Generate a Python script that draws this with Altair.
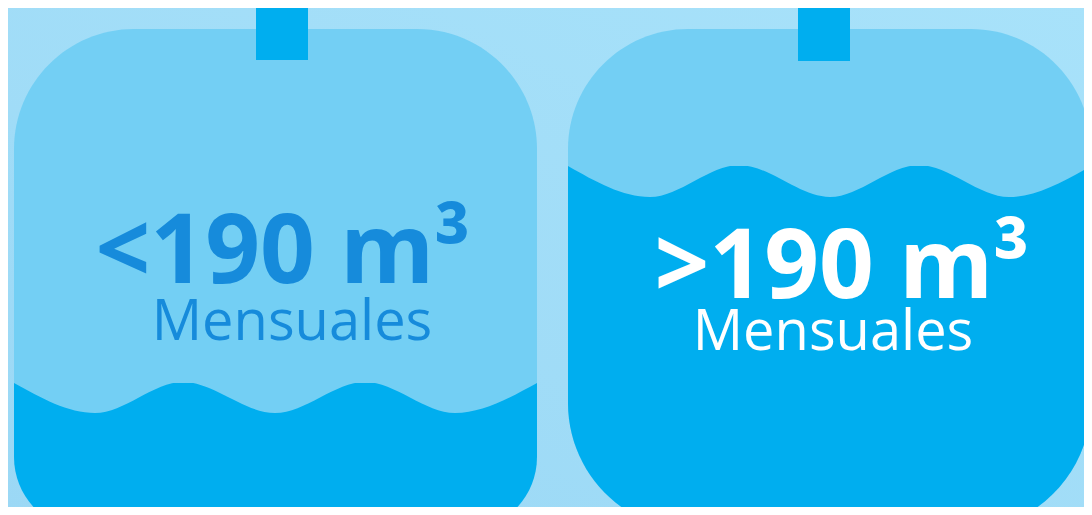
import altair as alt
import pandas as pd

# ---- data (pixel space of the 1092x515 reference) ----
labels_big = ["<190 m³", ">190 m³"]
labels_small = ["Mensuales", "Mensuales"]
text_colors = ["#168bdb", "#ffffff"]

tank_left = [14, 568]
tank_right = [537, 1091]
tank_top = [29, 29]
tank_bottom = [531, 531]
water_level = [383, 166]          # crest line of the water
tab_left = [256, 798]
tab_right = [308, 850]
tab_top = [0, 0]
tab_bottom = [60, 61]

wave_left_x = [14, 95, 183, 275, 365, 455, 537]
wave_left_y = [383, 413, 382, 413, 382, 413, 383]
wave_right_x = [568, 650, 739, 830, 919, 1009, 1091]
wave_right_y = [166, 197, 165, 197, 165, 197, 166]

big_x = [283, 842]
big_y = [283, 298]
small_x = [292, 833]
small_y = [340, 350]

BG_TOP = "#a8e2fa"
BG_BOTTOM = "#9bd8f5"
TANK = "#73cff4"
WATER = "#00aeef"

# ---- tables ----
tanks = pd.DataFrame({
    "left": tank_left, "right": tank_right, "top": tank_top,
    "bottom": tank_bottom, "level": water_level,
})
tabs = pd.DataFrame({"left": tab_left, "right": tab_right,
                     "top": tab_top, "bottom": tab_bottom})
waves = pd.concat([
    pd.DataFrame({"tank": "a", "x": wave_left_x, "y": wave_left_y,
                  "cap": [water_level[0] - 3] * len(wave_left_x)}),
    pd.DataFrame({"tank": "b", "x": wave_right_x, "y": wave_right_y,
                  "cap": [water_level[1] - 3] * len(wave_right_x)}),
])
big = pd.DataFrame({"label": labels_big, "x": big_x, "y": big_y, "c": text_colors})
small = pd.DataFrame({"label": labels_small, "x": small_x, "y": small_y, "c": text_colors})
bg = pd.DataFrame({"left": [0], "right": [1092], "top": [0], "bottom": [515]})

# 1:1 pixel mapping: the page margin is 8px on every side
xs = alt.Scale(domain=[8, 1084], nice=False, zero=False)
ys = alt.Scale(domain=[8, 507], nice=False, zero=False, reverse=True)


def X(f):
    return alt.X(f, type="quantitative", scale=xs, axis=None)


def Y(f):
    return alt.Y(f, type="quantitative", scale=ys, axis=None)


background = alt.Chart(bg).mark_rect(
    clip=True,
    color=alt.LinearGradient(
        gradient="linear",
        stops=[alt.GradientStop(color=BG_TOP, offset=0),
               alt.GradientStop(color=BG_BOTTOM, offset=1)],
        x1=1, y1=0, x2=0, y2=1,
    )
).encode(x=X("left"), x2="right", y=Y("top"), y2="bottom")

tank_body = alt.Chart(tanks).mark_rect(
    color=TANK, clip=True,
    cornerRadiusTopLeft=120, cornerRadiusTopRight=120,
    cornerRadiusBottomLeft=128, cornerRadiusBottomRight=128,
).encode(x=X("left"), x2="right", y=Y("top"), y2="bottom")

tab_marks = alt.Chart(tabs).mark_rect(color=WATER, clip=True).encode(
    x=X("left"), x2="right", y=Y("top"), y2="bottom")

water = alt.Chart(tanks).mark_rect(
    color=WATER, clip=True,
    cornerRadiusBottomLeft=128, cornerRadiusBottomRight=128,
).encode(x=X("left"), x2="right", y=Y("level"), y2="bottom")

wave = alt.Chart(waves).mark_area(color=TANK, interpolate="monotone", clip=True).encode(
    x=X("x"), y=Y("y"), y2="cap", detail="tank:N")

big_text = alt.Chart(big).mark_text(
    font="Open Sans", fontWeight="bold", fontSize=96,
    align="center", baseline="alphabetic",
).encode(x=X("x"), y=Y("y"), text="label:N", color=alt.Color("c:N", scale=None))

small_text = alt.Chart(small).mark_text(
    font="Open Sans", fontWeight="normal", fontSize=56,
    align="center", baseline="alphabetic",
).encode(x=X("x"), y=Y("y"), text="label:N", color=alt.Color("c:N", scale=None))

chart = alt.layer(
    background, tank_body, tab_marks, water, wave, big_text, small_text
).properties(
    width=1076, height=499, padding=0, autosize="none", background=BG_TOP,
).configure_view(stroke=None)

chart.save("out.html", embed_options={"renderer": "svg", "actions": False})
